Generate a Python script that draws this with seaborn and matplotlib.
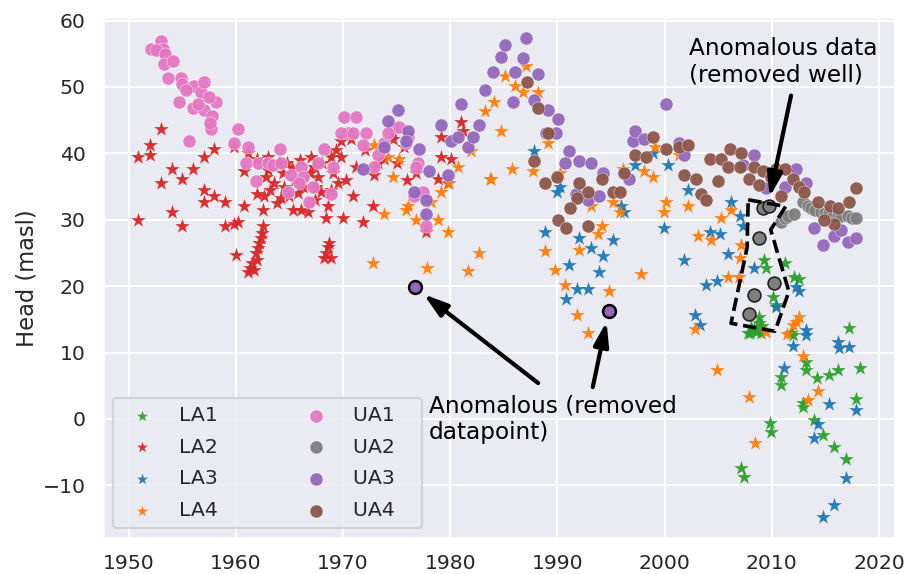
import matplotlib
matplotlib.use("Agg")
import matplotlib.pyplot as plt
import seaborn as sns

# ---------------- data ----------------
la1_year = [2009.3, 2009.5, 2011.2, 2012.1, 2012.5, 2010.1, 2010.4, 2008.8, 2008.8, 2008.1,
            2007.8, 2008.5, 2008.3, 2009.0, 2008.0, 2008.6, 2009.1, 2011.8, 2012.0, 2017.2,
            2013.2, 2013.2, 2014.2, 2015.3, 2016.2, 2018.2, 2010.9, 2010.9, 2012.9, 2012.9,
            2013.9, 2014.8, 2015.8, 2016.9, 2017.9, 2009.8, 2009.9, 2007.1, 2007.4]
la1_head = [24.0, 22.8, 23.5, 21.4, 21.0, 18.4, 17.2, 15.4, 14.5, 13.9,
            13.0, 13.1, 13.5, 13.0, 12.9, 13.3, 14.0, 13.0, 12.7, 13.7,
            8.5, 7.4, 6.2, 6.6, 7.4, 7.7, 6.3, 5.1, 2.4, 1.8,
            -0.2, -2.4, -4.2, -6.0, 3.0, -0.6, -2.0, -7.4, -8.8]

la2_year = [1950.9, 1950.9, 1952.0, 1952.0, 1953.0, 1953.0, 1954.0, 1954.0, 1955.0, 1955.0,
            1956.0, 1957.0, 1958.0, 1957.0, 1957.0, 1958.0, 1959.0, 1959.0, 1959.8, 1959.8,
            1960.2, 1960.0, 1960.8, 1960.8, 1961.1, 1961.1, 1961.3, 1961.7, 1961.5, 1962.0,
            1961.9, 1962.1, 1962.2, 1962.3, 1962.4, 1962.5, 1962.0, 1963.0, 1964.0, 1964.4,
            1962.0, 1962.6, 1964.2, 1966.1, 1966.7, 1967.0, 1967.7, 1967.9, 1968.6, 1968.4,
            1968.9, 1969.1, 1968.9, 1969.8, 1969.8, 1970.7, 1970.9, 1970.0, 1971.9, 1972.8,
            1972.9, 1973.8, 1974.7, 1974.7, 1975.7, 1976.8, 1977.7, 1979.1, 1979.1, 1980.1,
            1981.0, 1981.2, 1978.9, 1979.8, 1968.6, 1968.2, 1968.9, 1968.4, 1968.7,
            1963.2, 1963.6, 1964.5, 1965.0, 1965.5, 1965.8, 1966.3, 1966.9, 1967.3, 1967.4,
            1962.8, 1963.0, 1964.8, 1965.3, 1968.0, 1969.3, 1969.5, 1963.8, 1962.5, 1966.0,
            1965.2, 1967.5, 1971.2, 1970.3, 1972.0, 1975.0, 1976.0, 1973.3]
la2_head = [39.5, 29.9, 41.3, 39.8, 43.7, 35.6, 37.6, 31.2, 36.2, 29.0,
            37.6, 39.4, 40.6, 34.5, 32.7, 33.5, 32.7, 29.0, 40.9, 29.3,
            29.6, 24.7, 32.0, 37.3, 40.1, 22.2, 22.8, 22.5, 23.5, 24.0,
            25.0, 25.8, 26.5, 27.3, 28.0, 29.0, 39.1, 39.5, 38.6, 37.1,
            33.8, 33.5, 33.3, 31.5, 31.2, 39.5, 36.5, 34.1, 32.0, 30.3,
            34.5, 37.1, 39.4, 39.5, 41.8, 42.1, 33.5, 30.3, 29.6, 32.0,
            36.8, 39.1, 42.1, 43.1, 40.9, 37.1, 28.1, 42.5, 39.5, 39.1,
            44.7, 43.3, 36.1, 35.6, 25.9, 24.3, 24.3, 25.0, 26.5,
            34.5, 35.5, 35.0, 33.5, 36.0, 34.0, 35.0, 37.0, 38.0, 33.0,
            36.5, 37.5, 38.5, 31.5, 38.5, 40.5, 35.5, 32.5, 31.5, 39.0,
            37.8, 35.0, 38.0, 36.0, 40.5, 38.5, 36.0, 38.5]

la3_year = [1987.8, 1990.0, 1990.2, 1988.8, 1992.0, 1993.1, 1994.3, 1995.2, 1991.1, 1993.9,
            1991.8, 1992.9, 1990.8, 1997.2, 1995.9, 1996.2, 1998.9, 2000.3, 2002.2, 2006.2,
            2007.0, 2007.3, 1999.9, 2004.2, 2005.2, 2005.9, 2001.8, 2003.9, 2004.9, 2008.3,
            2012.3, 2012.5, 2002.8, 2003.3, 2010.4, 2013.2, 2013.2, 2012.0, 2016.2, 2016.3,
            2017.2, 2011.1, 2015.3, 2017.9, 2014.3, 2013.9, 2016.9, 2015.8, 2014.8]
la3_head = [40.3, 34.2, 35.0, 28.1, 27.2, 25.8, 24.6, 27.0, 23.2, 22.2,
            19.6, 19.6, 18.0, 38.3, 32.0, 31.1, 40.1, 38.3, 34.5, 32.6,
            30.5, 29.0, 28.8, 28.1, 27.9, 24.9, 24.0, 20.1, 20.7, 22.8,
            19.9, 19.2, 15.7, 14.2, 16.9, 13.4, 12.7, 11.0, 11.6, 10.7,
            10.9, 7.7, 2.3, 1.4, -0.8, -2.9, -8.9, -13.0, -14.8]

la4_year = [1972.9, 1974.2, 1975.2, 1974.7, 1973.8, 1975.9, 1976.1, 1976.8, 1978.9, 1978.2,
            1979.1, 1979.8, 1980.7, 1979.9, 1972.8, 1977.8, 1981.7, 1982.7, 1983.8, 1983.2,
            1984.1, 1984.7, 1987.1, 1985.1, 1986.0, 1986.8, 1988.2, 1989.1, 1981.9, 1985.8,
            1983.7, 1987.7, 1990.2, 1993.1, 1993.8, 1994.2, 1992.0, 1988.8, 1989.8, 1990.7,
            1994.8, 1997.8, 1991.8, 1992.9, 1995.2, 1996.1, 1998.1, 1998.9, 1995.8, 1999.1,
            2001.3, 2000.1, 1999.9, 2002.2, 2005.3, 2006.2, 2003.1, 2004.3, 2007.1, 2007.0,
            2005.9, 2006.9, 2002.8, 2009.5, 2012.5, 2012.3, 2012.0, 2011.4, 2012.9, 2004.9,
            2007.9, 2014.3, 2013.4, 2008.4]
la4_head = [41.3, 39.5, 39.1, 36.5, 30.9, 31.5, 32.1, 30.0, 30.0, 32.6,
            34.1, 28.1, 38.0, 35.6, 23.5, 22.8, 22.3, 25.0, 36.1, 46.3,
            47.8, 43.3, 53.1, 51.6, 50.1, 49.2, 49.2, 41.5, 40.4, 37.7,
            36.2, 37.3, 37.1, 32.0, 27.8, 29.0, 25.5, 25.3, 22.5, 20.2,
            19.2, 21.9, 15.7, 13.0, 32.6, 37.7, 37.3, 36.5, 31.2, 41.0,
            39.8, 32.6, 31.1, 32.0, 30.3, 31.5, 27.5, 27.0, 26.2, 24.3,
            21.4, 21.4, 13.6, 13.1, 15.4, 14.6, 14.2, 12.8, 9.4, 7.4,
            3.3, 4.2, 2.9, -3.6]

ua1_year = [1952.1, 1953.0, 1953.2, 1952.5, 1953.4, 1953.3, 1954.1, 1953.7, 1954.9, 1955.0,
            1954.7, 1956.1, 1956.7, 1957.0, 1956.0, 1957.0, 1958.1, 1957.8, 1957.7, 1955.6,
            1955.3, 1956.5, 1957.5, 1957.6, 1960.2, 1959.8, 1961.1, 1960.9, 1962.1, 1961.9,
            1963.0, 1963.5, 1964.1, 1964.2, 1964.9, 1965.1, 1966.1, 1966.3, 1965.9, 1966.8,
            1967.2, 1967.7, 1968.2, 1968.9, 1969.1, 1970.1, 1970.5, 1969.8, 1971.2, 1970.9,
            1972.1, 1971.9, 1973.3, 1973.8, 1972.9, 1974.7, 1974.2, 1975.2, 1976.1, 1975.9,
            1977.0, 1976.8, 1976.6, 1977.5, 1977.7]
ua1_head = [55.7, 56.9, 55.7, 55.5, 55.0, 53.4, 53.9, 51.4, 51.4, 50.4,
            47.8, 50.1, 49.2, 50.8, 46.9, 46.6, 47.8, 45.6, 43.6, 41.8,
            49.5, 47.5, 48.5, 44.5, 43.6, 41.6, 41.0, 38.6, 38.6, 35.8,
            38.6, 38.3, 40.6, 38.6, 34.2, 36.8, 38.0, 36.4, 35.6, 32.6,
            35.0, 38.6, 40.6, 33.8, 38.0, 45.4, 43.1, 43.1, 45.4, 43.1,
            43.1, 41.3, 39.8, 41.6, 37.9, 43.9, 43.1, 43.9, 42.5, 41.6,
            38.6, 38.0, 33.5, 34.1, 29.0]

ua2_year = [2010.9, 2011.2, 2011.5, 2012.1, 2012.9, 2013.4, 2013.7, 2014.0, 2014.6, 2015.0,
            2015.3, 2015.8, 2016.2, 2016.5, 2017.1, 2017.5, 2017.9]
ua2_head = [29.7, 30.2, 30.5, 30.8, 32.7, 32.0, 31.8, 31.5, 31.2, 31.0,
            31.1, 30.8, 30.6, 30.5, 30.5, 30.3, 30.3]
# UA2 well flagged as anomalous (removed well)
ua2_removed_year = [2007.9, 2008.3, 2008.8, 2009.2, 2009.7, 2010.2]
ua2_removed_head = [15.8, 18.7, 27.3, 31.7, 32.0, 20.4]

ua3_year = [1971.9, 1973.8, 1974.2, 1975.1, 1976.1, 1975.9, 1977.1, 1976.6, 1977.7, 1977.7,
            1978.0, 1979.1, 1979.8, 1980.1, 1980.7, 1981.0, 1981.7, 1982.1, 1982.7, 1983.2,
            1984.0, 1984.7, 1985.1, 1987.1, 1986.8, 1986.0, 1988.2, 1985.9, 1987.8, 1989.1,
            1990.1, 1988.9, 1989.9, 1991.1, 1990.7, 1992.0, 1993.1, 1994.3, 1991.7, 1992.9,
            1993.9, 1996.7, 1997.1, 1997.2, 1998.1, 2000.1, 2001.3, 2001.8, 2007.3, 2008.3,
            2009.5, 2011.2, 2012.3, 2013.2, 2013.9, 2014.8, 2015.8, 2016.5, 2017.1, 2017.9]
ua3_head = [37.6, 40.9, 44.8, 46.6, 43.3, 41.8, 40.6, 34.2, 33.0, 30.8,
            37.3, 44.3, 36.8, 41.8, 42.5, 47.4, 41.0, 42.4, 44.3, 49.5,
            52.2, 54.5, 56.3, 57.3, 54.3, 52.3, 52.0, 47.8, 48.0, 46.5,
            45.1, 43.1, 43.0, 40.3, 38.5, 38.8, 38.5, 37.1, 33.9, 33.0,
            33.6, 36.2, 41.8, 43.4, 42.1, 47.5, 41.6, 39.8, 38.3, 39.8,
            34.8, 35.0, 37.6, 35.6, 28.7, 26.2, 27.5, 28.5, 26.7, 27.2]
# UA3 datapoints flagged as anomalous (removed)
ua3_removed_year = [1976.7, 1994.8]
ua3_removed_head = [19.8, 16.3]

ua4_year = [1987.2, 1988.2, 1989.1, 1987.8, 1988.8, 1990.0, 1992.0, 1994.2, 1996.2, 1992.9,
            1991.8, 1991.2, 1990.1, 1990.8, 1992.9, 1995.2, 1995.8, 1997.2, 1998.3, 1998.9,
            2000.1, 2001.3, 2002.2, 2001.8, 2002.9, 2003.4, 2003.9, 2005.0, 2004.2, 2005.3,
            2006.1, 2007.1, 2005.9, 2007.0, 2007.9, 2008.3, 2009.2, 2008.8, 2009.9, 2010.4,
            2011.2, 2012.0, 2012.5, 2013.0, 2010.9, 2014.3, 2015.4, 2016.2, 2017.2, 2017.9,
            2015.8, 2014.9]
ua4_head = [50.8, 46.8, 43.1, 38.8, 35.6, 36.4, 35.6, 36.1, 37.1, 34.1,
            33.3, 31.7, 30.0, 28.7, 29.1, 34.1, 34.1, 39.7, 39.5, 42.5,
            40.6, 41.0, 41.3, 36.8, 36.2, 33.8, 33.0, 35.8, 39.1, 39.1,
            40.6, 40.1, 37.9, 37.9, 36.1, 37.9, 37.3, 35.3, 36.5, 37.6,
            37.6, 36.2, 35.0, 34.2, 33.5, 32.6, 32.0, 31.8, 32.6, 34.8,
            29.3, 30.0]

# dashed outline around the removed well
box_year = [2007.8, 2011.3, 2009.9, 2011.6, 2010.3, 2006.2, 2007.7]
box_head = [33.0, 32.0, 28.5, 19.2, 13.2, 14.4, 25.8]

series = [
    ("LA1", la1_year, la1_head, "*", "#2ca02c"),
    ("LA2", la2_year, la2_head, "*", "#d62728"),
    ("LA3", la3_year, la3_head, "*", "#1f77b4"),
    ("LA4", la4_year, la4_head, "*", "#ff7f0e"),
    ("UA1", ua1_year, ua1_head, "o", "#e377c2"),
    ("UA2", ua2_year, ua2_head, "o", "#7f7f7f"),
    ("UA3", ua3_year, ua3_head, "o", "#9467bd"),
    ("UA4", ua4_year, ua4_head, "o", "#8c564b"),
]

# ---------------- figure ----------------
sns.set_theme(context="talk", style="darkgrid")
fig, ax = plt.subplots(figsize=(9.14, 5.74), dpi=100)
fig.subplots_adjust(left=0.1127, right=0.9792, top=0.970, bottom=0.062)

for name, xs, ys, mk, col in series:
    if mk == "*":
        sns.scatterplot(x=xs, y=ys, marker=mk, color=col, s=120, linewidth=0,
                        alpha=0.95, label=name, ax=ax, zorder=3)
    else:
        sns.scatterplot(x=xs, y=ys, marker=mk, color=col, s=88, linewidth=0.3,
                        edgecolor="white", alpha=0.95, label=name + "   ", ax=ax, zorder=3)

sns.scatterplot(x=ua2_removed_year, y=ua2_removed_head, marker="o", color="#7f7f7f",
                s=85, edgecolor="#222222", linewidth=1.2, legend=False, ax=ax, zorder=4)
sns.scatterplot(x=ua3_removed_year, y=ua3_removed_head, marker="o", color="#9467bd",
                s=85, edgecolor="black", linewidth=1.8, legend=False, ax=ax, zorder=4)

ax.plot(box_year + box_year[:1], box_head + box_head[:1], color="black",
        linestyle="--", linewidth=2.6, zorder=5)

# annotations
arrow_style = dict(arrowstyle="-|>,head_length=0.8,head_width=0.25", color="black", lw=3)
ax.text(2002.25, 57.5, "Anomalous data\n(removed well)", fontsize=16.7,
        color="black", ha="left", va="top", zorder=6)
ax.annotate("", xy=(2009.8, 33.4), xytext=(2011.8, 48.7),
            arrowprops=dict(shrinkA=0, shrinkB=0, **arrow_style), zorder=6)

ax.text(1978.0, 3.7, "Anomalous (removed\ndatapoint)", fontsize=16.7,
        color="black", ha="left", va="top", zorder=6)
ax.annotate("", xy=(ua3_removed_year[0], ua3_removed_head[0]), xytext=(1988.2, 5.4),
            arrowprops=dict(shrinkA=0, shrinkB=8, **arrow_style), zorder=6)
ax.annotate("", xy=(ua3_removed_year[1], ua3_removed_head[1]), xytext=(1993.3, 4.8),
            arrowprops=dict(shrinkA=0, shrinkB=8, **arrow_style), zorder=6)

ax.set_xlim(1947.6, 2021.5)
ax.set_ylim(-18.0, 60.5)
ax.set_xticks([1950, 1960, 1970, 1980, 1990, 2000, 2010, 2020])
ax.set_yticks([-10, 0, 10, 20, 30, 40, 50, 60])
ax.tick_params(labelsize=14.7)
ax.tick_params(axis="x", pad=2.5)
ax.set_xlabel("")
ax.set_ylabel("Head (masl)", fontsize=16.3, labelpad=3)

leg = ax.legend(ncol=2, loc="lower left", fontsize=14.7, labelspacing=0.62,
                columnspacing=3.85)
for h in leg.legend_handles[:4]:
    h.set_sizes([70])

fig.savefig("out.png", dpi=100)
